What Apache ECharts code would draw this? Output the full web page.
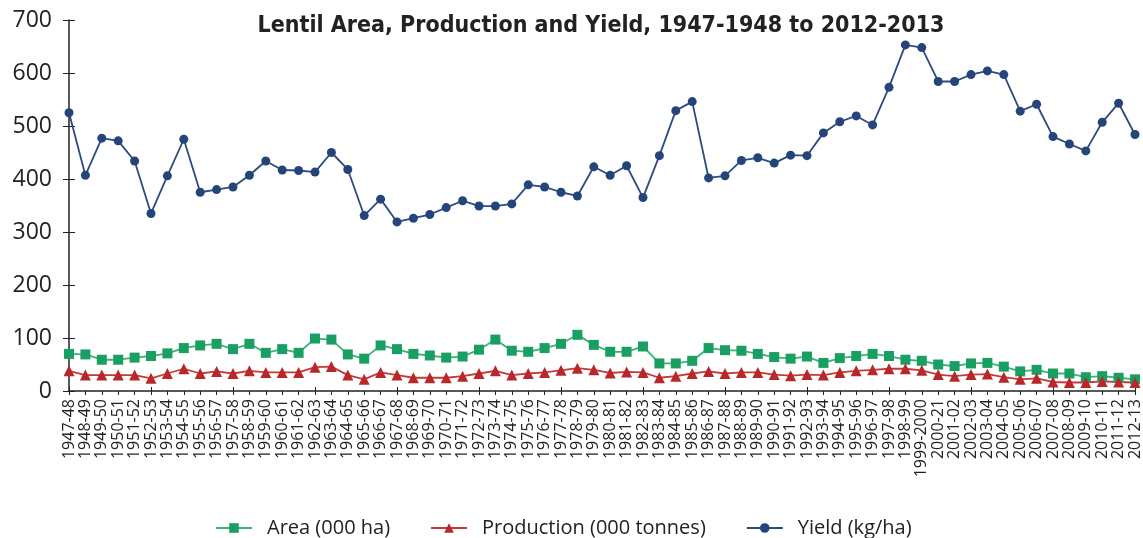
<!DOCTYPE html>
<html>
<head>
<meta charset="utf-8">
<script src="https://cdn.jsdelivr.net/npm/echarts@6/dist/echarts.min.js"></script>
<style>
  html, body { margin: 0; padding: 0; background: #fff; }
  #chart { width: 1143px; height: 538px; }
</style>
</head>
<body>
<div id="chart"></div>
<script>
const seasons = [
  "1947-48","1948-49","1949-50","1950-51","1951-52","1952-53","1953-54","1954-55","1955-56","1956-57",
  "1957-58","1958-59","1959-60","1960-61","1961-62","1962-63","1963-64","1964-65","1965-66","1966-67",
  "1967-68","1968-69","1969-70","1970-71","1971-72","1972-73","1973-74","1974-75","1975-76","1976-77",
  "1977-78","1978-79","1979-80","1980-81","1981-82","1982-83","1983-84","1984-85","1985-86","1986-87",
  "1987-88","1988-89","1989-90","1990-91","1991-92","1992-93","1993-94","1994-95","1995-96","1996-97",
  "1997-98","1998-99","1999-2000","2000-21","2001-02","2002-03","2003-04","2004-05","2005-06","2006-07",
  "2007-08","2008-09","2009-10","2010-11","2011-12","2012-13"
]

// 000 ha
const area = [
  70, 69, 59, 59, 63, 66, 71, 81, 86, 89, 79, 89, 72, 79, 72, 99, 97, 69, 61, 86, 79, 70, 67,
  63, 65, 78, 97, 76, 74, 81, 89, 106, 87, 74, 74, 84, 52, 52, 57, 81, 77, 76, 70, 64, 61,
  65, 53, 62, 66, 70, 66, 59, 57, 50, 47, 52, 53, 46, 37, 40, 33, 33, 26, 28, 25, 22
]

// 000 tonnes
const production = [
  38, 30, 30, 30, 30, 24, 33, 42, 33, 37, 33, 38, 35, 35, 35, 45, 46, 30, 22, 35, 30, 25, 25,
  25, 28, 33, 38, 30, 33, 35, 39, 43, 40, 34, 36, 35, 25, 28, 33, 37, 33, 35, 35, 31, 29,
  31, 30, 35, 38, 40, 42, 42, 39, 31, 28, 31, 32, 26, 22, 24, 17, 16, 16, 18, 17, 16
]

// kg/ha
const yieldKg = [
  525, 407, 477, 472, 434, 335, 406, 475, 375, 380, 385, 407, 434, 417, 416, 413, 450, 418, 331, 362, 319, 326, 333,
  346, 359, 349, 349, 353, 389, 385, 375, 368, 423, 407, 425, 365, 444, 529, 546, 402, 406, 435, 440, 430, 445,
  444, 487, 508, 519, 502, 573, 653, 648, 584, 584, 597, 604, 597, 528, 541, 480, 466, 453, 507, 543, 484
]

const GREEN = "#1a9f63"
const RED = "#b8272a"
const NAVY = "#24457a"
const INK = "#222"
const FONT = '"Open Sans", "Noto Sans", sans-serif'

const chart = echarts.init(document.getElementById("chart"))

function lineSeries(name, data, symbol, size, color, lineColor) {
  return {
    name: name,
    type: "line",
    data: data,
    symbol: symbol,
    symbolSize: size,
    showSymbol: true,
    itemStyle: { color: color },
    lineStyle: { color: lineColor, width: 1.8 },
    emphasis: { disabled: true },
    animation: false
  }
}

const option = {
  animation: false,
  title: {
    text: "Lentil Area, Production and Yield, 1947-1948 to 2012-2013",
    left: 596,
    textAlign: "center",
    top: 10,
    textStyle: {
      fontFamily: '"Liberation Sans Narrow", "DejaVu Sans Condensed", sans-serif',
      fontWeight: "bold",
      fontSize: 23,
      color: INK
    }
  },
  legend: {
    top: 513,
    left: 210,
    itemWidth: 36,
    itemHeight: 12,
    itemGap: 40,
    textStyle: { fontFamily: FONT, fontSize: 20, color: INK, padding: [0, 0, 0, 10] },
    data: ["Area (000 ha)", "Production (000 tonnes)", "Yield (kg/ha)"]
  },
  grid: { left: 69, right: 8, top: 20, bottom: 147 },
  xAxis: [{
    type: "category",
    data: seasons,
    boundaryGap: false,
    axisLine: { lineStyle: { color: INK, width: 1.5 } },
    axisTick: { alignWithLabel: true, length: 4, lineStyle: { color: INK } },
    axisLabel: {
      interval: 0,
      rotate: 90,
      margin: 8,
      fontFamily: FONT,
      fontSize: 16,
      color: INK
    }
  }, {
    type: "category",
    data: seasons,
    boundaryGap: false,
    position: "bottom",
    axisLine: { show: false },
    axisTick: { inside: true, length: 4, lineStyle: { color: INK } },
    axisLabel: { show: false }
  }],
  yAxis: [{
    type: "value",
    min: 0,
    max: 700,
    interval: 100,
    splitLine: { show: false },
    axisLine: { show: true, lineStyle: { color: INK, width: 1.5 } },
    axisTick: { show: true, length: 6, lineStyle: { color: INK } },
    axisLabel: { fontFamily: FONT, fontSize: 23, color: INK, margin: 17 }
  }, {
    type: "value",
    min: 0,
    max: 700,
    interval: 100,
    position: "left",
    splitLine: { show: false },
    axisLine: { show: false },
    axisTick: { show: true, inside: true, length: 6, lineStyle: { color: INK } },
    axisLabel: { show: false }
  }],
  series: [
    lineSeries("Area (000 ha)", area, "rect", 10, GREEN, "#3bb27a"),
    lineSeries("Production (000 tonnes)", production, "triangle", 11, RED, "#c8383a"),
    lineSeries("Yield (kg/ha)", yieldKg, "circle", 9, NAVY, "#2c4b7f")
  ]
}

chart.setOption(option)
</script>
</body>
</html>
